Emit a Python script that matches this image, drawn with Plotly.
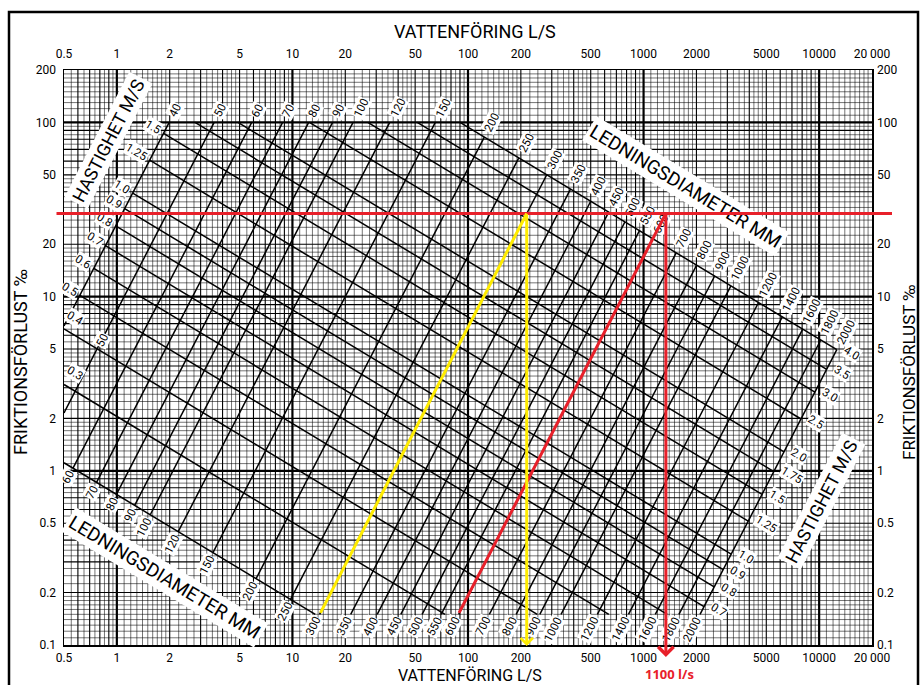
import math
import plotly.graph_objects as go

# ---------------- values ----------------
x_tick_vals = [0.5, 1, 2, 5, 10, 20, 50, 100, 200, 500, 1000, 2000, 5000, 10000, 20000]
x_tick_text = ["0.5", "1", "2", "5", "10", "20", "50", "100", "200", "500", "1000", "2000", "5000", "10000", "20 000"]
y_tick_vals = [0.1, 0.2, 0.5, 1, 2, 5, 10, 20, 50, 100, 200]
y_tick_text = ["0.1", "0.2", "0.5", "1", "2", "5", "10", "20", "50", "100", "200"]

x_range = [0.5, 20000]      # VATTENFÖRING L/S
y_range = [0.1, 200]        # FRIKTIONSFÖRLUST ‰

# pipe diameter lines: flow (L/s) where each line crosses 10 ‰, common slope in log-log
diameters_mm = [40, 50, 60, 70, 80, 90, 100, 120, 150, 200, 250, 300, 350, 400, 450,
                500, 550, 600, 700, 800, 900, 1000, 1200, 1400, 1600, 1800, 2000]
diameter_flow_at_10 = [0.61, 1.1, 1.8, 2.7, 3.8, 5.2, 6.8, 11, 20, 42, 76, 123, 185, 262, 357,
                       472, 606, 762, 1140, 1620, 2210, 2920, 4700, 7070, 10050, 13700, 18070]
diameter_slope = 1.95

# velocity lines (m/s): flow (L/s) where each line crosses 10 ‰, common slope
velocities_ms = [0.2, 0.3, 0.4, 0.5, 0.6, 0.7, 0.8, 0.9, 1.0, 1.25, 1.5, 1.75, 2.0, 2.5, 3.0, 3.5, 4.0]
velocity_text = ["", "0.3", "0.4", "0.5", "0.6", "0.7", "0.8", "0.9", "1.0", "1.25", "1.5",
                 "1.75", "2.0", "2.5", "3.0", "3.5", "4.0"]
velocity_flow_at_10 = [0.0135, 0.074, 0.248, 0.634, 1.365, 2.61, 4.58, 7.50, 11.7, 29.9, 64.3,
                       123, 216, 551, 1186, 2268, 3976]
velocity_slope = -0.608

loss_top = 100      # upper limit of the diagram network
loss_bottom = 0.15  # lower limit of the diagram network

# worked example drawn on the chart
target_loss = 30
yellow_flow = [14.3, 216]
yellow_loss = [0.15, 30]
red_flow = [88, 1340]
red_loss = [0.15, 30]
answer_text = "1100 l/s"

# ---------------- layout geometry ----------------
FIG_W, FIG_H = 920, 685
M_L, M_R, M_T, M_B = 64, 48, 70, 40
PW, PH = FIG_W - M_L - M_R, FIG_H - M_T - M_B
lg = math.log10
LX0, LX1 = lg(x_range[0]), lg(x_range[1])
LY0, LY1 = lg(y_range[0]), lg(y_range[1])
PPD_X = PW / (LX1 - LX0)
PPD_Y = PH / (LY1 - LY0)


def px_u(u):
    return M_L + (u - LX0) * PPD_X


def py_v(v):
    return M_T + (LY1 - v) * PPD_Y


def paper_x(p):
    return (p - M_L) / PW


def paper_y(p):
    return (M_T + PH - p) / PH


FONT = "Roboto, Liberation Sans, Arial, sans-serif"
RED = "#e8202a"
YELLOW = "#ffec00"

fig = go.Figure()

# ---------------- log-paper grid ----------------
fine_m = [1.1, 1.2, 1.3, 1.4, 1.5, 1.6, 1.7, 1.8, 1.9, 2.25, 2.5, 2.75, 3.25, 3.5, 3.75,
          4.25, 4.5, 4.75, 5.5, 6.5, 7.5, 8.5, 9.5]
mid_m = [2, 3, 4, 5, 6, 7, 8, 9]
major_m = [1]


def grid_vals(mants, lo, hi):
    out = []
    for k in range(-3, 7):
        for m in mants:
            v = m * 10 ** k
            if lo * 1.001 < v < hi * 0.999:
                out.append(v)
    return out


def add_grid(mants, width, color):
    xs, ys = [], []
    for v in grid_vals(mants, *x_range):
        xs += [v, v, None]
        ys += [y_range[0], y_range[1], None]
    for v in grid_vals(mants, *y_range):
        xs += [x_range[0], x_range[1], None]
        ys += [v, v, None]
    fig.add_trace(go.Scatter(x=xs, y=ys, mode="lines", line=dict(color=color, width=width),
                             hoverinfo="skip", showlegend=False))


add_grid(fine_m, 0.7, "rgba(0,0,0,0.78)")
add_grid(mid_m, 1.1, "black")
add_grid(major_m, 2.2, "black")

# ---------------- nomogram network ----------------
sD, sV = diameter_slope, velocity_slope
a_list = [lg(q) for q in diameter_flow_at_10]
b_list = [lg(q) for q in velocity_flow_at_10]


def meet(a, b):
    return (sD * a - sV * b) / (sD - sV)


def q_on_d(jl, a):
    return a + (jl - 1) / sD


def q_on_v(jl, b):
    return b + (jl - 1) / sV


def j_on_d(u, a):
    return 1 + sD * (u - a)


def j_on_v(u, b):
    return 1 + sV * (u - b)


lines_x, lines_y = [], []
d_segments = []
for a in a_list:
    u0 = max(meet(a, b_list[0]), q_on_d(lg(loss_bottom), a), LX0)
    u1 = min(q_on_d(lg(loss_top), a), meet(a, b_list[-1]))
    d_segments.append((u0, u1))
    lines_x += [10 ** u0, 10 ** u1, None]
    lines_y += [10 ** j_on_d(u0, a), 10 ** j_on_d(u1, a), None]

v_segments = []
for b in b_list:
    u0 = max(meet(a_list[0], b), q_on_v(lg(loss_top), b), LX0)
    u1 = min(meet(a_list[-1], b), q_on_v(lg(loss_bottom), b))
    v_segments.append((u0, u1))
    lines_x += [10 ** u0, 10 ** u1, None]
    lines_y += [10 ** j_on_v(u0, b), 10 ** j_on_v(u1, b), None]

fig.add_trace(go.Scatter(x=lines_x, y=lines_y, mode="lines", line=dict(color="black", width=1.5),
                         hoverinfo="skip", showlegend=False))

# invisible trace for the top / right axes
fig.add_trace(go.Scatter(x=[1], y=[1], xaxis="x2", yaxis="y2", mode="markers",
                         marker=dict(opacity=0), hoverinfo="skip", showlegend=False))

# ---------------- labels on the network ----------------
ang_d = math.degrees(math.atan(sD * PPD_Y / PPD_X))
ang_v = math.degrees(math.atan(-sV * PPD_Y / PPD_X))
cd, sdn = math.cos(math.radians(ang_d)), math.sin(math.radians(ang_d))
cv, svn = math.cos(math.radians(ang_v)), math.sin(math.radians(ang_v))
LS = 11.5


def tw(s, size=LS):
    return sum(0.28 * size if c == "." else 0.56 * size for c in s)


annotations = []


def label(text, u, jl, xshift, yshift, angle):
    annotations.append(dict(
        text=text, xref="paper", yref="paper", x=paper_x(px_u(u)), y=paper_y(py_v(jl)),
        xshift=xshift, yshift=yshift, textangle=angle, showarrow=False,
        font=dict(family=FONT, size=LS, color="black"), bgcolor="white", borderpad=0,
        xanchor="center", yanchor="middle"))


for D, a, (u0, u1) in zip(diameters_mm, a_list, d_segments):
    t = str(D)
    d = tw(t) / 2 + 7
    label(t, u1, j_on_d(u1, a), cd * d, sdn * d, -ang_d)
    if u0 > LX0 + 1e-6:
        d = tw(t) / 2 + 4
        label(t, u0, j_on_d(u0, a), -cd * d, -sdn * d, -ang_d)
    elif D == 50:
        um = meet(a, b_list[2])
        d = tw(t) / 2 + 4
        label(t, um, j_on_d(um, a), cd * d, sdn * d, -ang_d)

for t, b, (u0, u1) in zip(velocity_text, b_list, v_segments):
    if not t:
        continue
    start_on_top = abs(u0 - q_on_v(lg(loss_top), b)) < 1e-9
    if not start_on_top:
        if u0 <= LX0 + 1e-6:
            label(t, u0, j_on_v(u0, b), tw(t) / 2 + 3, 11, ang_v)
        else:
            d = tw(t) / 2 + 4
            label(t, u0, j_on_v(u0, b), -cv * d, svn * d, ang_v)
    if abs(u1 - meet(a_list[-1], b)) < 1e-9:
        label(t, u1, j_on_v(u1, b), tw(t) / 2 + 7, -3, ang_v)

# big diagonal captions with white bands
for text, cx, cy, ang, size in [("HASTIGHET M/S", 108, 140, -ang_d, 18),
                                ("LEDNINGSDIAMETER MM", 686, 186, ang_v, 19),
                                ("LEDNINGSDIAMETER MM", 165, 577, ang_v, 19),
                                ("HASTIGHET M/S", 821, 501, -ang_d, 18)]:
    annotations.append(dict(text=text, xref="paper", yref="paper", x=paper_x(cx), y=paper_y(cy),
                            textangle=ang, showarrow=False, bgcolor="white", borderpad=2,
                            font=dict(family=FONT, size=size, color="black"),
                            xanchor="center", yanchor="middle"))

# axis titles
for text, cx, cy, ang, size in [("VATTENFÖRING L/S", 475, 32, 0, 18),
                                ("VATTENFÖRING L/S", 470, 675, 0, 16),
                                ("FRIKTIONSFÖRLUST ‰", 20, 362, -90, 18),
                                ("FRIKTIONSFÖRLUST ‰", 909, 372, -90, 17)]:
    annotations.append(dict(text=text, xref="paper", yref="paper", x=paper_x(cx), y=paper_y(cy),
                            textangle=ang, showarrow=False,
                            font=dict(family=FONT, size=size, color="black"),
                            xanchor="center", yanchor="middle"))


# ---------------- worked example (drawn on top) ----------------
def seg(q0, j0, q1, j1, color, width, head=0, headsize=1.0):
    x0, y0 = px_u(lg(q0)), py_v(lg(j0))
    x1, y1 = px_u(lg(q1)), py_v(lg(j1))
    annotations.append(dict(text="", xref="paper", yref="paper", x=paper_x(x1), y=paper_y(y1),
                            axref="pixel", ayref="pixel", ax=x0 - x1, ay=y0 - y1,
                            showarrow=True, arrowhead=head, arrowsize=headsize, arrowwidth=width,
                            arrowcolor=color, standoff=0, startstandoff=0, font=dict(size=1)))


ty = py_v(lg(target_loss))
annotations.append(dict(text="", xref="paper", yref="paper", x=paper_x(892), y=paper_y(ty),
                        axref="pixel", ayref="pixel", ax=55 - 892, ay=0, showarrow=True,
                        arrowhead=0, arrowwidth=3, arrowcolor=RED, standoff=0, font=dict(size=1)))
seg(yellow_flow[0], yellow_loss[0], yellow_flow[1], yellow_loss[1], YELLOW, 3)
seg(red_flow[0], red_loss[0], red_flow[1], red_loss[1], RED, 3)
# vertical drops to the flow axis
yv_x = px_u(lg(yellow_flow[1]))
annotations.append(dict(text="", xref="paper", yref="paper", x=paper_x(yv_x), y=paper_y(646),
                        axref="pixel", ayref="pixel", ax=0, ay=ty - 646, showarrow=True,
                        arrowhead=4, arrowsize=0.8, arrowwidth=3, arrowcolor=YELLOW,
                        standoff=0, font=dict(size=1)))
rv_x = px_u(lg(red_flow[1]))
annotations.append(dict(text="", xref="paper", yref="paper", x=paper_x(rv_x), y=paper_y(657),
                        axref="pixel", ayref="pixel", ax=0, ay=ty - 657, showarrow=True,
                        arrowhead=4, arrowsize=1.0, arrowwidth=3, arrowcolor=RED,
                        standoff=0, font=dict(size=1)))
annotations.append(dict(text="<b>%s</b>" % answer_text, xref="paper", yref="paper",
                        x=paper_x(669), y=paper_y(685), showarrow=False,
                        font=dict(family="Open Sans, Noto Sans, sans-serif", size=13, color=RED),
                        xanchor="center", yanchor="bottom"))

# outer frame
shapes = [dict(type="rect", xref="paper", yref="paper", x0=paper_x(9), x1=paper_x(918),
               y0=paper_y(692), y1=paper_y(12), line=dict(color="black", width=2.5),
               fillcolor="rgba(0,0,0,0)", layer="above")]

tickfont = dict(family=FONT, size=12, color="black")
common = dict(type="log", showgrid=False, zeroline=False, ticks="", automargin=False, tickfont=tickfont)
fig.update_layout(
    width=FIG_W, height=FIG_H,
    margin=dict(l=M_L, r=M_R, t=M_T, b=M_B),
    paper_bgcolor="white", plot_bgcolor="white",
    showlegend=False, hovermode=False,
    xaxis=dict(range=[LX0, LX1], tickvals=x_tick_vals, ticktext=x_tick_text, showline=True,
               linecolor="black", linewidth=1.5, mirror=True, ticklabelstandoff=1, **common),
    yaxis=dict(range=[LY0, LY1], tickvals=y_tick_vals, ticktext=y_tick_text, showline=True,
               linecolor="black", linewidth=1.5, mirror=True, ticklabelstandoff=4, **common),
    xaxis2=dict(range=[LX0, LX1], tickvals=x_tick_vals, ticktext=x_tick_text, overlaying="x",
                side="top", anchor="y2", showline=False, ticklabelstandoff=9, **common),
    yaxis2=dict(range=[LY0, LY1], tickvals=y_tick_vals, ticktext=y_tick_text, overlaying="y",
                side="right", anchor="x2", showline=False, ticklabelstandoff=4, **common),
    annotations=annotations,
    shapes=shapes,
)

fig.write_html("out.html", config={"displayModeBar": False, "staticPlot": True},
               post_script="document.body.style.margin='0';document.body.style.overflow='hidden';")
